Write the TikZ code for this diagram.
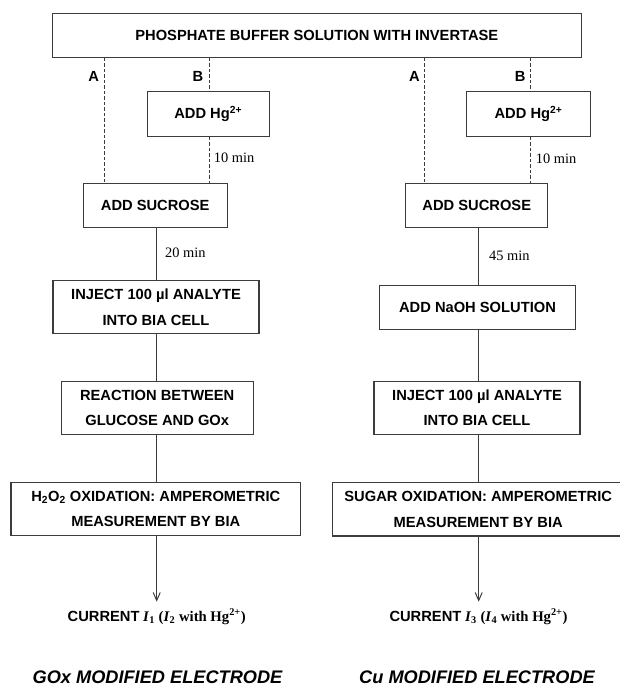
\documentclass[tikz,border=0pt]{standalone}
\usepackage{fontspec}
\setmainfont{Liberation Serif}
\setsansfont{Liberation Sans}
\usetikzlibrary{arrows.meta}
\definecolor{linegray}{HTML}{3C3C3C}
\begin{document}
\begin{tikzpicture}[x=1pt,y=-1pt,
  box/.style={draw=linegray, line width=1.1pt, rectangle, inner sep=0pt, align=center,
    font=\sffamily\bfseries\fontsize{14.7}{25.3}\selectfont},
  conn/.style={draw=linegray, line width=1pt},
  dashconn/.style={draw=linegray, line width=1pt, dash pattern=on 3.5pt off 2pt},
  arr/.style={conn, -{Straight Barb[length=8pt,width=7pt]}},
  lbl/.style={inner sep=0pt, font=\sffamily\bfseries\fontsize{14.7}{17}\selectfont},
  timelbl/.style={inner sep=0pt, anchor=west, font=\rmfamily\fontsize{14.4}{17}\selectfont},
  curlbl/.style={inner sep=0pt, font=\rmfamily\bfseries\fontsize{14.7}{17}\selectfont},
  elbl/.style={inner sep=0pt, font=\sffamily\bfseries\itshape\fontsize{18.2}{21}\selectfont}]
\useasboundingbox (0,0) rectangle (619,688);

% column coordinates
\coordinate (xA1) at (104,0);
\coordinate (xB1) at (209.3,0);
\coordinate (xA2) at (424.3,0);
\coordinate (xB2) at (530,0);
\coordinate (x1) at (156.7,0);
\coordinate (x2) at (478.7,0);

% boxes
\node[box, minimum width=529pt, minimum height=44pt] (top) at (316.8,35.3) {PHOSPHATE BUFFER SOLUTION WITH INVERTASE};
\node[box, minimum width=122.3pt, minimum height=44.3pt] (hg1) at (208.2,113.9) {ADD Hg\textsuperscript{2+}};
\node[box, minimum width=123.6pt, minimum height=44.3pt] (hg2) at (528.5,113.9) {ADD Hg\textsuperscript{2+}};
\node[box, minimum width=143.7pt, minimum height=44pt] (suc1) at (155.2,205.3) {ADD SUCROSE};
\node[box, minimum width=142pt, minimum height=44pt] (suc2) at (476.8,205.3) {ADD SUCROSE};
\node[box, minimum width=206pt, minimum height=53pt] (inj1) at (156,307.2) {INJECT 100 µl ANALYTE\\INTO BIA CELL};
\node[box, minimum width=195.6pt, minimum height=44.3pt] (naoh) at (477.5,307.2) {ADD NaOH SOLUTION};
\node[box, minimum width=191.7pt, minimum height=52.6pt] (reac) at (157.2,408) {REACTION BETWEEN\\GLUCOSE AND GOx};
\node[box, minimum width=206pt, minimum height=52.6pt] (inj2) at (477,408) {INJECT 100 µl ANALYTE\\INTO BIA CELL};
\node[box, minimum width=289.7pt, minimum height=53pt] (h2o2) at (155.8,509.2) {H\textsubscript{2}O\textsubscript{2} OXIDATION: AMPEROMETRIC\\MEASUREMENT BY BIA};
\node[box, minimum width=292pt, minimum height=53.3pt] (sugar) at (478.2,509.3) {SUGAR OXIDATION: AMPEROMETRIC\\MEASUREMENT BY BIA};

% path labels
\node[lbl] (la1) at (93.7,76.3) {A};
\node[lbl] (lb1) at (198,76.3) {B};
\node[lbl] (la2) at (414.5,76.3) {A};
\node[lbl] (lb2) at (520.3,76.3) {B};
\node[timelbl] (t10a) at (213.7,157.7) {10 min};
\node[timelbl] (t10b) at (535.7,158.3) {10 min};
\node[timelbl] (t20) at (165,252.7) {20 min};
\node[timelbl] (t45) at (489,256) {45 min};

% results
\node[curlbl] (cur1) at (156.7,616.7) {{\sffamily CURRENT} \textit{I}\textsubscript{1} (\textit{I}\textsubscript{2} with Hg\textsuperscript{2+})};
\node[curlbl] (cur2) at (478.5,616.7) {{\sffamily CURRENT} \textit{I}\textsubscript{3} (\textit{I}\textsubscript{4} with Hg\textsuperscript{2+})};
\coordinate (tip1) at (156.7,601.7);
\coordinate (tip2) at (478.7,601.7);
\node[elbl] (el1) at (157.5,677) {GOx MODIFIED ELECTRODE};
\node[elbl] (el2) at (477,677) {Cu MODIFIED ELECTRODE};

% dashed connectors
\draw[dashconn] (top.south -| xA1) -- (suc1.north -| xA1);
\draw[dashconn] (top.south -| xB1) -- (hg1.north -| xB1);
\draw[dashconn] (hg1.south -| xB1) -- (suc1.north -| xB1);
\draw[dashconn] (top.south -| xA2) -- (suc2.north -| xA2);
\draw[dashconn] (top.south -| xB2) -- (hg2.north -| xB2);
\draw[dashconn] (hg2.south -| xB2) -- (suc2.north -| xB2);

% solid connectors
\draw[conn] (suc1.south -| x1) -- (inj1.north -| x1);
\draw[conn] (inj1.south -| x1) -- (reac.north -| x1);
\draw[conn] (reac.south -| x1) -- (h2o2.north -| x1);
\draw[arr] (h2o2.south -| x1) -- (tip1);
\draw[conn] (suc2.south -| x2) -- (naoh.north -| x2);
\draw[conn] (naoh.south -| x2) -- (inj2.north -| x2);
\draw[conn] (inj2.south -| x2) -- (sugar.north -| x2);
\draw[arr] (sugar.south -| x2) -- (tip2);
\end{tikzpicture}
\end{document}
